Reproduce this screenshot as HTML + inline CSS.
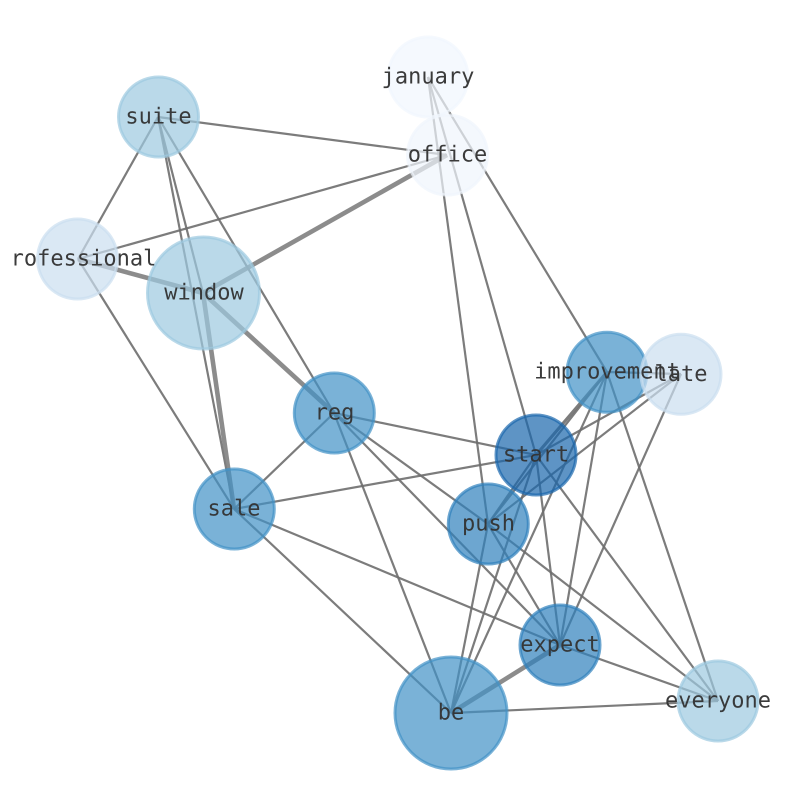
<!DOCTYPE html>
<html>
<head>
<meta charset="utf-8">
<style>
html,body{margin:0;padding:0;background:#fff;}
svg{display:block;}
text{font-family:"DejaVu Sans Mono",monospace;font-size:22px;fill:#333;fill-opacity:.96;text-anchor:middle;text-rendering:geometricPrecision;}
circle{stroke-width:3;fill-opacity:.7;stroke-opacity:.7;}
line{stroke:#6e6e6e;stroke-opacity:.9;stroke-width:2.2;}
.t{stroke-width:4.6;stroke:#808080;}
.m{stroke-width:3.2;}
</style>
</head>
<body>
<svg width="794" height="790" viewBox="0 0 794 790" xmlns="http://www.w3.org/2000/svg">
<g>
<line x1="158" y1="117" x2="447" y2="155"/>
<line x1="158" y1="117" x2="78" y2="259"/>
<line x1="158" y1="117" x2="203" y2="293"/>
<line x1="158" y1="117" x2="234" y2="509"/>
<line x1="158" y1="117" x2="334" y2="413"/>
<line x1="78" y1="259" x2="447" y2="155"/>
<line class="t" x1="78" y1="259" x2="203" y2="293"/>
<line x1="78" y1="259" x2="234" y2="509"/>
<line class="t" x1="203" y1="293" x2="447" y2="155"/>
<line class="t" x1="203" y1="293" x2="334" y2="413"/>
<line class="t" x1="203" y1="293" x2="234" y2="509"/>
<line x1="428" y1="77" x2="488" y2="524"/>
<line x1="428" y1="77" x2="536" y2="455"/>
<line x1="428" y1="77" x2="607" y2="372"/>
<line x1="334" y1="413" x2="536" y2="455"/>
<line x1="334" y1="413" x2="234" y2="509"/>
<line x1="334" y1="413" x2="488" y2="524"/>
<line x1="334" y1="413" x2="560" y2="645"/>
<line x1="334" y1="413" x2="451" y2="713"/>
<line x1="234" y1="509" x2="536" y2="455"/>
<line x1="234" y1="509" x2="560" y2="645"/>
<line x1="234" y1="509" x2="451" y2="713"/>
<line class="m" x1="536" y1="455" x2="607" y2="372"/>
<line x1="536" y1="455" x2="681" y2="374"/>
<line x1="536" y1="455" x2="488" y2="524"/>
<line x1="536" y1="455" x2="451" y2="713"/>
<line x1="536" y1="455" x2="560" y2="645"/>
<line x1="536" y1="455" x2="718" y2="701"/>
<line x1="488" y1="524" x2="607" y2="372"/>
<line x1="488" y1="524" x2="681" y2="374"/>
<line x1="488" y1="524" x2="451" y2="713"/>
<line x1="488" y1="524" x2="560" y2="645"/>
<line x1="488" y1="524" x2="718" y2="701"/>
<line x1="607" y1="372" x2="681" y2="374"/>
<line x1="607" y1="372" x2="451" y2="713"/>
<line x1="607" y1="372" x2="560" y2="645"/>
<line x1="607" y1="372" x2="718" y2="701"/>
<line x1="681" y1="374" x2="560" y2="645"/>
<line class="t" x1="560" y1="645" x2="451" y2="713"/>
<line x1="560" y1="645" x2="718" y2="701"/>
<line x1="451" y1="713" x2="718" y2="701"/>
</g>
<g>
<circle cx="428" cy="77" r="40" fill="#f1f6fd" stroke="#f1f6fd"/>
<circle cx="447.500" cy="155" r="40" fill="#eff5fc" stroke="#eff5fc"/>
<circle cx="158.500" cy="117" r="40" fill="#9cc9e0" stroke="#9cc9e0"/>
<circle cx="77.500" cy="259" r="40" fill="#cbdef0" stroke="#cbdef0"/>
<circle cx="203.500" cy="293" r="56" fill="#9cc9e0" stroke="#9cc9e0"/>
<circle cx="334.300" cy="413" r="40" fill="#4292c6" stroke="#4292c6"/>
<circle cx="234.300" cy="509" r="40" fill="#4292c6" stroke="#4292c6"/>
<circle cx="607" cy="372.300" r="40" fill="#4292c6" stroke="#4292c6"/>
<circle cx="681" cy="374.300" r="40" fill="#cbdef0" stroke="#cbdef0"/>
<circle cx="536" cy="455" r="40" fill="#1a66ac" stroke="#1a66ac"/>
<circle cx="488.300" cy="524" r="40" fill="#2f80bc" stroke="#2f80bc"/>
<circle cx="560" cy="645" r="40" fill="#2f80bc" stroke="#2f80bc"/>
<circle cx="451" cy="713" r="56" fill="#4292c6" stroke="#4292c6"/>
<circle cx="718" cy="701" r="40" fill="#9cc9e0" stroke="#9cc9e0"/>
</g>
<g>
<text x="428" y="83.500">january</text>
<text x="447.500" y="161.500">office</text>
<text x="158.500" y="123.500">suite</text>
<text x="83.500" y="265.500">rofessional</text>
<text x="204" y="299.500">window</text>
<text x="334.500" y="419.500">reg</text>
<text x="234" y="515.500">sale</text>
<text x="607" y="378.500">improvement</text>
<text x="681" y="381">late</text>
<text x="536" y="461.500">start</text>
<text x="488.500" y="530.500">push</text>
<text x="560" y="651.500">expect</text>
<text x="451" y="719.500">be</text>
<text x="718" y="707.500">everyone</text>
</g>
</svg>
</body>
</html>
